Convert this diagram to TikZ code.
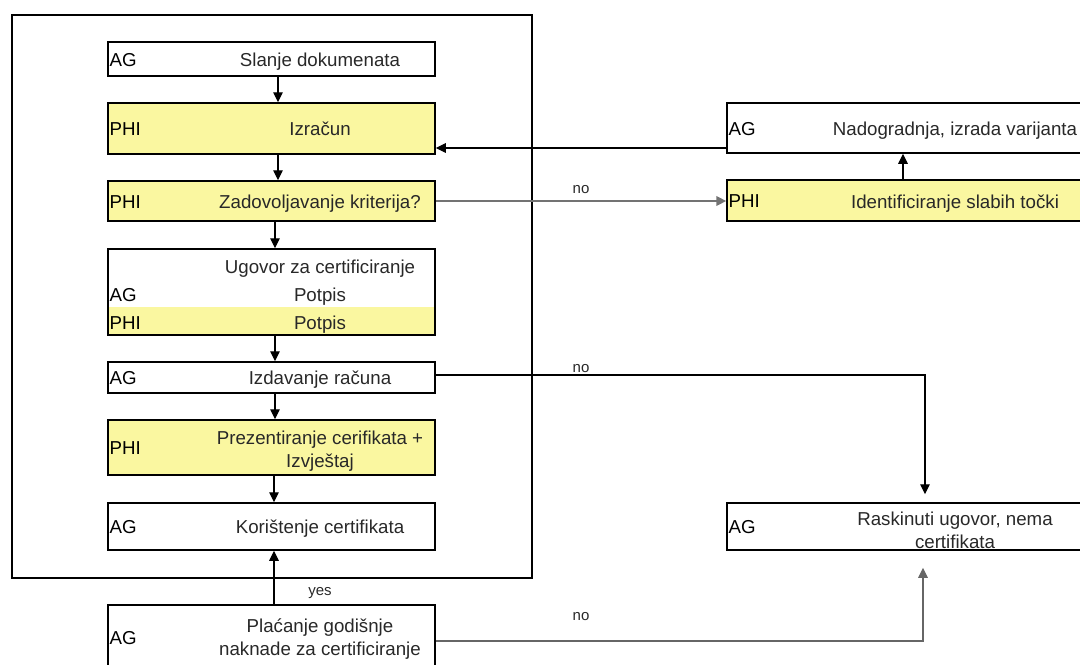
\documentclass[tikz,border=0pt]{standalone}
\usepackage{fontspec}
\setmainfont{Liberation Sans}
\usetikzlibrary{arrows.meta}
\definecolor{phiyellow}{RGB}{250,247,160}
\definecolor{inkgray}{RGB}{40,40,40}

\begin{document}
\begin{tikzpicture}[x=0.5pt,y=-0.5pt,
  box/.style={draw=black,line width=0.75pt,inner sep=0pt},
  leftbox/.style={box,minimum width=163.5pt},
  rightbox/.style={box,minimum width=181.5pt},
  phi/.style={fill=phiyellow},
  who/.style={anchor=west,inner sep=0pt,xshift=1pt,yshift=-1pt,text height=0.72em,text depth=0.21em,font=\fontsize{9.35}{11.5}\selectfont},
  task/.style={inner sep=0pt,yshift=-1pt,text=inkgray,text height=0.72em,text depth=0.21em,font=\fontsize{9.35}{11.5}\selectfont},
  tasktwo/.style={align=center,inner sep=0pt,yshift=-0.75pt,text=inkgray,font=\fontsize{9.35}{11.5}\selectfont},
  tag/.style={inner sep=0pt,text=inkgray,font=\fontsize{7.5}{9}\selectfont},
  arr/.style={-{Triangle[length=5pt,width=4.8pt]},line width=0.6pt}]
\clip (0,0) rectangle (1080,664);
\draw[line width=0.75pt] (12,15) rectangle (532,578);

\node[leftbox,minimum height=17pt] (slanje) at (271.5,59) {};
\node[who] (slanjeag) at (slanje.west) {AG};
\node[task] (slanjetxt) at (320,59) {Slanje dokumenata};

\node[leftbox,phi,minimum height=25.5pt] (izracun) at (271.5,128.5) {};
\node[who] (izracunphi) at (izracun.west) {PHI};
\node[task] (izracuntxt) at (320,128.5) {Izračun};

\node[leftbox,phi,minimum height=20pt] (kriterij) at (271.5,201) {};
\node[who] (kriterijphi) at (kriterij.west) {PHI};
\node[task] (kriterijtxt) at (320,201) {Zadovoljavanje kriterija?};

\fill[phiyellow] (108,307) rectangle (435,335);
\node[leftbox,minimum height=43pt] (ugovor) at (271.5,292) {};
\node[task] (ugovortxt) at (320,266) {Ugovor za certificiranje};
\node[who] (ugovorag) at (ugovor.west |- 0,294) {AG};
\node[task] (potpisag) at (320,294) {Potpis};
\node[who] (ugovorphi) at (ugovor.west |- 0,322) {PHI};
\node[task] (potpisphi) at (320,322) {Potpis};

\node[leftbox,minimum height=15.5pt] (izdavanje) at (271.5,377.5) {};
\node[who] (izdavanjeag) at (izdavanje.west) {AG};
\node[task] (izdavanjetxt) at (320,377.5) {Izdavanje računa};

\node[leftbox,phi,minimum height=27.5pt] (prezent) at (271.5,447.5) {};
\node[who] (prezentphi) at (prezent.west) {PHI};
\node[tasktwo] (prezenttxt) at (320,449.5) {Prezentiranje cerifikata +\\Izvještaj};

\node[leftbox,minimum height=23.5pt] (koristenje) at (271.5,526.5) {};
\node[who] (koristenjeag) at (koristenje.west) {AG};
\node[task] (koristenjetxt) at (320,526.5) {Korištenje certifikata};

\node[leftbox,minimum height=32pt] (placanje) at (271.5,637) {};
\node[who] (placanjeag) at (placanje.west) {AG};
\node[tasktwo] (placanjetxt) at (320,637.5) {Plaćanje godišnje\\naknade za certificiranje};

\node[rightbox,minimum height=25pt] (nadogradnja) at (908.5,128) {};
\node[who] (nadogradnjaag) at (nadogradnja.west) {AG};
\node[task] (nadogradnjatxt) at (955,128) {Nadogradnja, izrada varijanta};

\node[rightbox,phi,minimum height=20.5pt] (identif) at (908.5,200.5) {};
\node[who] (identifphi) at (identif.west) {PHI};
\node[task] (identiftxt) at (955,201) {Identificiranje slabih točki};

\node[rightbox,minimum height=23.5pt] (raskinuti) at (908.5,526.5) {};
\node[who] (raskinutiag) at (raskinuti.west) {AG};
\node[tasktwo] (raskinutitxt) at (955,528.5) {Raskinuti ugovor, nema\\certifikata};

\draw[arr] ([xshift=3.25pt]slanje.south) -- ([xshift=3.25pt]izracun.north);
\draw[arr] ([xshift=3.25pt]izracun.south) -- ([xshift=3.25pt]kriterij.north);
\draw[arr] ([xshift=1.75pt]kriterij.south) -- ([xshift=1.75pt]ugovor.north);
\draw[arr] ([xshift=1.75pt]ugovor.south) -- ([xshift=1.75pt]izdavanje.north);
\draw[arr] ([xshift=1.75pt]izdavanje.south) -- ([xshift=1.75pt]prezent.north);
\draw[arr] ([xshift=1.25pt]prezent.south) -- ([xshift=1.25pt]koristenje.north);
\draw[arr] ([xshift=1.25pt]placanje.north) -- ([xshift=1.25pt]koristenje.south);
\node[tag] (yes) at (320,593) {yes};

\draw[arr,draw=black!55,line width=0.9pt] (kriterij.east) -- (kriterij.east -| identif.west);
\node[tag] (noone) at (581,190) {no};
\draw[arr] ([xshift=-2.75pt]identif.north) -- ([xshift=-2.75pt]nadogradnja.south);
\draw[arr] ([yshift=-10pt]nadogradnja.west) -- ([yshift=-10pt]nadogradnja.west -| izracun.east);

\draw[arr,shorten >=4pt] ([yshift=1.25pt]izdavanje.east) -| ([xshift=8.25pt]raskinuti.north);
\node[tag] (notwo) at (581,369) {no};
\draw[arr,draw=black!60,shorten >=8.5pt] ([yshift=-2pt]placanje.east) -| ([xshift=7.25pt]raskinuti.south);
\node[tag] (nothree) at (581,617) {no};
\end{tikzpicture}
\end{document}
